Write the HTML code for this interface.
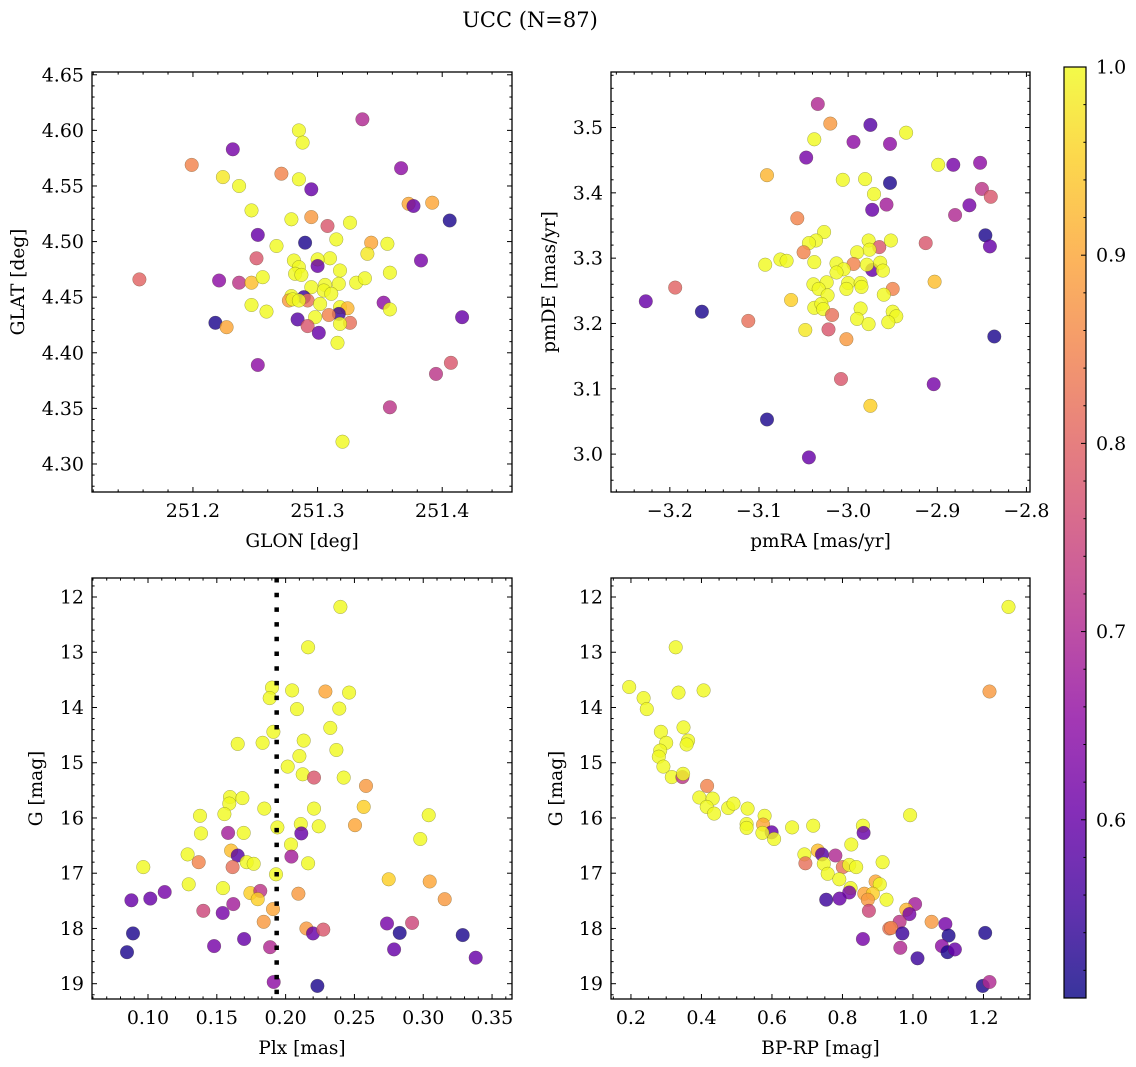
<!DOCTYPE html>
<html><head><meta charset="utf-8"><style>
html,body{margin:0;padding:0;background:#fff;}
svg{display:block;font-family:"DejaVu Serif","Liberation Serif",serif;}
</style></head><body>
<svg id="chart" width="1136" height="1067" viewBox="0 0 1136 1067" xmlns="http://www.w3.org/2000/svg">
<text x="530" y="27" text-anchor="middle" font-size="21">UCC (N=87)</text>
<g id="root"></g>
</svg>
<script>
// Panel A: GLON vs GLAT
const glonA=[251.336,251.285,251.288,251.232,251.199,251.367,251.224,251.271,251.285,251.237,251.295,251.373,251.377,251.392,251.406,251.247,251.279,251.295,251.308,251.326,251.252,251.290,251.315,251.267,251.343,251.356,251.340,251.251,251.310,251.383,251.300,251.300,251.281,251.285,251.282,251.287,251.318,251.358,251.157,251.221,251.237,251.247,251.256,251.295,251.306,251.317,251.331,251.338,251.305,251.311,251.279,251.289,251.277,251.292,251.280,251.285,251.353,251.247,251.302,251.358,251.259,251.318,251.324,251.317,251.309,251.298,251.416,251.218,251.227,251.284,251.292,251.326,251.318,251.301,251.316,251.252,251.407,251.395,251.358,251.320];
const glatA=[4.610,4.600,4.589,4.583,4.569,4.566,4.558,4.561,4.556,4.550,4.547,4.534,4.532,4.535,4.519,4.528,4.520,4.522,4.514,4.517,4.506,4.499,4.502,4.496,4.499,4.498,4.489,4.485,4.485,4.483,4.484,4.478,4.483,4.477,4.471,4.470,4.474,4.472,4.466,4.465,4.463,4.463,4.468,4.459,4.461,4.462,4.463,4.467,4.456,4.453,4.451,4.450,4.447,4.447,4.448,4.447,4.445,4.443,4.444,4.439,4.437,4.441,4.440,4.435,4.434,4.432,4.432,4.427,4.423,4.430,4.424,4.427,4.426,4.418,4.409,4.389,4.391,4.381,4.351,4.320];
const probA=[0.7,1,1,0.62,0.85,0.65,0.98,0.85,1,1,0.6,0.9,0.6,0.9,0.52,1,1,0.88,0.78,1,0.6,0.52,1,1,0.9,1,0.98,0.78,1,0.62,1,0.6,1,1,1,1,1,1,0.8,0.65,0.72,0.93,1,1,1,1,1,1,1,1,1,0.55,0.88,0.82,1,1,0.65,1,1,1,1,1,0.92,0.55,0.85,1,0.6,0.52,0.9,0.58,0.78,0.82,1,0.6,1,0.65,0.78,0.72,0.72,1];
// Panel B: pmRA vs pmDE
const pmraB=[-3.034,-3.020,-2.975,-3.038,-2.994,-2.953,-2.935,-3.047,-3.091,-3.006,-2.981,-2.953,-2.971,-2.899,-2.882,-2.852,-2.973,-2.957,-2.850,-2.840,-2.864,-2.880,-2.846,-2.841,-3.057,-3.027,-3.036,-3.044,-3.050,-3.093,-3.076,-3.069,-3.038,-2.977,-2.965,-2.976,-2.990,-2.952,-2.913,-3.013,-2.994,-3.005,-3.013,-2.973,-2.979,-2.964,-2.961,-3.039,-3.024,-3.033,-3.000,-3.002,-2.986,-2.985,-3.023,-2.950,-2.960,-2.903,-3.064,-3.038,-3.030,-3.028,-3.018,-2.986,-2.950,-2.946,-2.990,-2.977,-2.955,-3.048,-3.022,-3.002,-3.227,-3.194,-3.164,-3.112,-2.836,-3.008,-2.904,-2.975,-3.091,-3.044];
const pmdeB=[3.536,3.506,3.504,3.482,3.478,3.475,3.492,3.454,3.427,3.420,3.421,3.415,3.398,3.443,3.443,3.446,3.374,3.382,3.406,3.394,3.381,3.366,3.335,3.318,3.361,3.340,3.327,3.323,3.309,3.290,3.298,3.296,3.294,3.327,3.317,3.313,3.309,3.327,3.323,3.292,3.291,3.283,3.278,3.282,3.290,3.293,3.281,3.260,3.263,3.253,3.262,3.253,3.262,3.256,3.243,3.253,3.244,3.264,3.236,3.224,3.230,3.222,3.213,3.223,3.218,3.211,3.207,3.199,3.202,3.190,3.191,3.176,3.234,3.255,3.218,3.204,3.180,3.115,3.107,3.074,3.053,2.995];
const probB=[0.7,0.88,0.58,1,0.65,0.65,1,0.62,0.92,1,1,0.52,1,1,0.62,0.65,0.6,0.68,0.72,0.78,0.62,0.7,0.52,0.6,0.85,1,1,1,0.85,1,1,1,1,1,0.78,1,1,1,0.78,1,0.85,1,1,0.6,1,1,1,1,1,1,1,1,1,1,1,0.85,1,0.93,0.95,1,1,1,0.82,1,1,1,1,1,1,0.98,0.78,0.88,0.6,0.8,0.52,0.82,0.52,0.78,0.62,0.95,0.52,0.6];
// Panel C: Plx vs G
const plxC=[0.2398,0.2163,0.1901,0.1884,0.2047,0.2289,0.2461,0.2083,0.2390,0.2325,0.1911,0.1652,0.1833,0.2131,0.2369,0.2100,0.2015,0.2124,0.2206,0.2422,0.2584,0.1596,0.1686,0.1591,0.2567,0.1845,0.2206,0.1378,0.1555,0.3040,0.1940,0.2110,0.2240,0.2504,0.1385,0.1582,0.1695,0.2114,0.2979,0.2039,0.1288,0.1604,0.1652,0.2042,0.1368,0.1717,0.1768,0.2163,0.0966,0.1615,0.1930,0.2749,0.3047,0.1296,0.1545,0.1744,0.1816,0.1797,0.2093,0.3156,0.0879,0.1017,0.1121,0.1908,0.1402,0.1543,0.1620,0.1841,0.2737,0.2919,0.2151,0.2199,0.2274,0.2829,0.3287,0.0891,0.0847,0.1480,0.1698,0.1887,0.2788,0.3381,0.1913,0.2231];
const gC=[12.18,12.91,13.64,13.83,13.69,13.71,13.73,14.03,14.02,14.37,14.44,14.66,14.64,14.60,14.77,14.88,15.07,15.21,15.27,15.27,15.42,15.62,15.64,15.74,15.80,15.83,15.83,15.96,15.93,15.95,16.17,16.11,16.15,16.13,16.28,16.27,16.27,16.28,16.38,16.48,16.66,16.59,16.68,16.70,16.80,16.80,16.83,16.82,16.89,16.89,17.02,17.11,17.15,17.20,17.27,17.36,17.32,17.47,17.37,17.47,17.49,17.46,17.34,17.65,17.68,17.72,17.56,17.88,17.91,17.90,18.00,18.09,18.02,18.08,18.12,18.09,18.43,18.32,18.19,18.34,18.38,18.53,18.97,19.04];
const probC=[1,1,1,1,1,0.9,1,1,1,1,1,1,1,1,1,1,1,1,0.78,1,0.88,1,1,1,0.95,1,1,1,1,1,1,1,1,0.9,1,0.68,1,0.6,1,1,1,0.93,0.58,0.68,0.85,1,1,1,1,0.82,1,0.95,0.9,1,1,0.95,0.72,0.95,0.88,0.88,0.6,0.6,0.62,0.9,0.75,0.62,0.68,0.88,0.62,0.75,0.88,0.6,0.78,0.52,0.52,0.52,0.52,0.62,0.6,0.7,0.6,0.6,0.65,0.52];
const plxLine=0.1935;
// Panel D: BP-RP vs G
const bprpD=[1.271,0.327,0.195,0.335,0.406,1.217,0.236,0.245,0.285,0.349,0.300,0.362,0.358,0.283,0.279,0.292,0.316,0.346,0.348,0.416,0.394,0.432,0.415,0.436,0.476,0.491,0.531,0.528,0.528,0.579,0.575,0.599,0.573,0.606,0.657,0.717,0.858,0.860,0.992,0.825,0.914,0.692,0.695,0.730,0.742,0.780,0.747,0.801,0.819,0.839,0.758,0.791,0.823,0.819,0.894,0.906,0.862,0.886,0.872,0.925,0.754,0.792,0.875,1.006,0.981,0.990,1.053,0.962,0.933,0.938,0.970,1.092,1.101,1.205,0.858,0.964,1.082,1.098,1.119,1.013,1.198,1.217];
const gD=[12.18,12.91,13.63,13.73,13.69,13.71,13.83,14.03,14.44,14.36,14.64,14.60,14.67,14.78,14.89,15.07,15.26,15.26,15.20,15.42,15.63,15.65,15.80,15.92,15.82,15.74,15.83,16.11,16.18,15.96,16.12,16.26,16.27,16.38,16.17,16.14,16.14,16.27,15.95,16.48,16.80,16.66,16.82,16.59,16.66,16.68,16.83,16.89,16.85,16.89,17.01,17.11,17.27,17.35,17.15,17.20,17.37,17.37,17.48,17.48,17.48,17.46,17.68,17.56,17.66,17.74,17.88,17.88,18.00,17.99,18.09,17.92,18.13,18.08,18.19,18.35,18.32,18.43,18.38,18.54,19.04,18.97];
const probD=[1,1,1,1,1,0.88,1,1,1,1,1,1,1,1,1,1,1,0.72,1,0.85,1,1,1,1,1,1,1,1,1,1,0.9,0.6,1,1,1,1,1,0.6,1,1,1,1,0.82,0.93,0.58,0.7,1,0.82,1,1,1,1,1,0.62,0.9,1,0.9,0.95,0.88,1,0.55,0.6,0.75,0.68,0.92,0.62,0.88,0.72,0.82,0.85,0.55,0.62,0.52,0.52,0.62,0.7,0.65,0.52,0.6,0.55,0.52,0.7];
const cbTicks=[0.6,0.7,0.8,0.9,1.0];

const NS="http://www.w3.org/2000/svg";
const root=document.getElementById('root');
const TF=19, LF=18.5;
function mk(tag,attrs,parent){const e=document.createElementNS(NS,tag);for(const k in attrs)e.setAttribute(k,attrs[k]);(parent||root).appendChild(e);return e;}
const stops=[[0,13,8,135],[0.1,65,4,157],[0.2,106,0,168],[0.3,143,13,164],[0.4,177,42,144],[0.5,204,71,120],[0.6,225,100,98],[0.7,242,132,75],[0.8,252,166,54],[0.9,252,206,37],[1,240,249,33]];
const VMIN=0.5053,VMAX=1.0;
function plasma(t){t=Math.max(0,Math.min(1,t));for(let i=1;i<stops.length;i++){if(t<=stops[i][0]){const a=stops[i-1],b=stops[i];const f=(t-a[0])/(b[0]-a[0]);return `rgb(${Math.round(a[1]+f*(b[1]-a[1]))},${Math.round(a[2]+f*(b[2]-a[2]))},${Math.round(a[3]+f*(b[3]-a[3]))})`;}}return 'rgb(240,249,33)';}
function colorOf(p){return plasma((p-VMIN)/(VMAX-VMIN));}

function fmt(v,d){let s=v.toFixed(d);if(v<0)s='\u2212'+s.slice(1);return s;}

function panel(o){
  const g=mk('g',{});
  
  
  const sx=v=>o.x0+(v-o.xmin)/(o.xmax-o.xmin)*(o.x1-o.x0);
  const sy=o.invert?(v=>o.y0+(v-o.ymin)/(o.ymax-o.ymin)*(o.y1-o.y0)):(v=>o.y1-(v-o.ymin)/(o.ymax-o.ymin)*(o.y1-o.y0));
  const clip=mk('clipPath',{id:'clip-'+o.name},g);
  mk('rect',{x:o.x0,y:o.y0,width:o.x1-o.x0,height:o.y1-o.y0},clip);
  const pts=mk('g',{'clip-path':'url(#clip-'+o.name+')'},g);
  
  
  for(let i=0;i<o.xs.length;i++){
    const c=mk('circle',{cx:sx(o.xs[i]).toFixed(1),cy:sy(o.ys[i]).toFixed(1),r:6.8,fill:colorOf(o.ps[i]),'fill-opacity':0.82,stroke:'rgba(60,60,20,0.45)','stroke-width':0.5},pts);
    
    
  }
  if(o.vline!==undefined){
    const l=mk('line',{x1:sx(o.vline),x2:sx(o.vline),y1:o.y0,y2:o.y1,stroke:'#000','stroke-width':4.5,'stroke-dasharray':'4.5 10.2'},g);
    
    
  }
  const frame=mk('rect',{x:o.x0,y:o.y0,width:o.x1-o.x0,height:o.y1-o.y0,fill:'none',stroke:'#000','stroke-width':1.3},g);
  
  
  const tk=mk('g',{stroke:'#000','stroke-width':1},g);
  
  
  const eps=1e-9;
  for(let v=Math.ceil(o.xmin/o.xminor-eps)*o.xminor;v<=o.xmax+eps;v+=o.xminor){
    const isMaj=Math.abs(v/o.xmajor-Math.round(v/o.xmajor))<1e-6;const L=isMaj?5:2.6;const x=sx(v);
    mk('line',{x1:x,x2:x,y1:o.y1,y2:o.y1-L},tk);mk('line',{x1:x,x2:x,y1:o.y0,y2:o.y0+L},tk);
    if(isMaj){const t=mk('text',{x:x,y:o.y1+25,'text-anchor':'middle','font-size':TF,stroke:'none',fill:'#000'},g);t.textContent=fmt(v,o.xdec);
      
      }
  }
  for(let v=Math.ceil(o.ymin/o.yminor-eps)*o.yminor;v<=o.ymax+eps;v+=o.yminor){
    const isMaj=Math.abs(v/o.ymajor-Math.round(v/o.ymajor))<1e-6;const L=isMaj?5:2.6;const y=sy(v);
    mk('line',{x1:o.x0,x2:o.x0+L,y1:y,y2:y},tk);mk('line',{x1:o.x1,x2:o.x1-L,y1:y,y2:y},tk);
    if(isMaj){const t=mk('text',{x:o.x0-8,y:y+6.5,'text-anchor':'end','font-size':TF,stroke:'none',fill:'#000'},g);t.textContent=fmt(v,o.ydec);
      
      }
  }
  const xl=mk('text',{x:(o.x0+o.x1)/2,y:o.y1+55,'text-anchor':'middle','font-size':LF},g);xl.textContent=o.xlabel;
  
  
  const yl=mk('text',{x:0,y:0,'text-anchor':'middle','font-size':LF,transform:`translate(${o.ylx},${(o.y0+o.y1)/2}) rotate(-90)`},g);yl.textContent=o.ylabel;
  
  
}

panel({name:'glon-glat-panel',x0:92,x1:512,y0:72,y1:492,xmin:251.119,xmax:251.456,ymin:4.2748,ymax:4.6525,xmajor:0.1,xminor:0.02,ymajor:0.05,yminor:0.01,xdec:1,ydec:2,xs:glonA,ys:glatA,ps:probA,xlabel:'GLON [deg]',ylabel:'GLAT [deg]',ylx:24});
panel({name:'pm-panel',x0:611,x1:1030,y0:72,y1:492,xmin:-3.266,xmax:-2.796,ymin:2.942,ymax:3.585,xmajor:0.1,xminor:0.02,ymajor:0.1,yminor:0.02,xdec:1,ydec:1,xs:pmraB,ys:pmdeB,ps:probB,xlabel:'pmRA [mas/yr]',ylabel:'pmDE [mas/yr]',ylx:555});
panel({name:'plx-g-panel',x0:92,x1:512,y0:578,y1:999,xmin:0.0593,xmax:0.3645,ymin:11.656,ymax:19.277,invert:true,xmajor:0.05,xminor:0.01,ymajor:1,yminor:0.2,xdec:2,ydec:0,xs:plxC,ys:gC,ps:probC,xlabel:'Plx [mas]',ylabel:'G [mag]',ylx:42,vline:plxLine});
panel({name:'cmd-panel',x0:611,x1:1030,y0:578,y1:999,xmin:0.1434,xmax:1.332,ymin:11.656,ymax:19.277,invert:true,xmajor:0.2,xminor:0.05,ymajor:1,yminor:0.2,xdec:1,ydec:0,xs:bprpD,ys:gD,ps:probD,xlabel:'BP-RP [mag]',ylabel:'G [mag]',ylx:562});

const cb=mk('g',{});


const defs=mk('defs',{},cb);
const lg=mk('linearGradient',{id:'cbgrad',x1:0,y1:1,x2:0,y2:0},defs);
for(let i=0;i<=20;i++){mk('stop',{offset:i/20,'stop-color':plasma(i/20),'stop-opacity':0.82},lg);}
const CB={x:1064,y0:67,y1:998,w:22};
mk('rect',{x:CB.x,y:CB.y0,width:CB.w,height:CB.y1-CB.y0,fill:'url(#cbgrad)',stroke:'#000','stroke-width':1.2},cb);
const cy=v=>CB.y1-(v-VMIN)/(VMAX-VMIN)*(CB.y1-CB.y0);
for(let v=0.52;v<=1.0001;v+=0.02){const y=cy(v);const maj=Math.abs(v*10-Math.round(v*10))<1e-6;mk('line',{x1:CB.x+CB.w,x2:CB.x+CB.w-(maj?5:2.6),y1:y,y2:y,stroke:'#000','stroke-width':1},cb);}
for(const v of cbTicks){const t=mk('text',{x:CB.x+CB.w+10,y:cy(v)+6.5,'font-size':TF},cb);t.textContent=v.toFixed(1);
  
  }
</script>
</body></html>
